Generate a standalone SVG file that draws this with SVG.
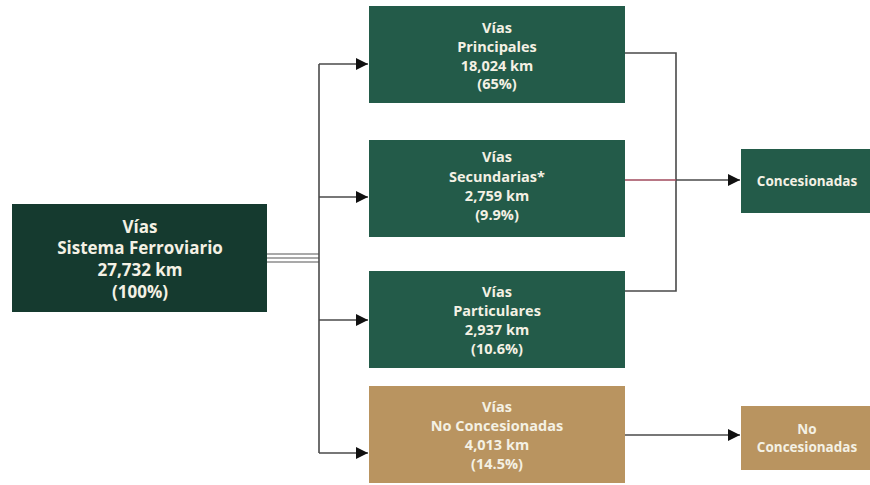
<svg xmlns="http://www.w3.org/2000/svg" width="870" height="485" viewBox="0 0 870 485">
<defs>
<marker id="ah" viewBox="0 0 10 10" refX="10" refY="5" markerWidth="12" markerHeight="12" markerUnits="userSpaceOnUse" orient="auto">
<path d="M0,0 L10,5 L0,10 z" fill="#111"/>
</marker>
<style>
.t{font-family:"Open Sans","Liberation Sans",sans-serif;font-weight:700;fill:#f4f1e4;text-anchor:middle}
.m{font-size:14.5px}
.b{font-size:17px}
.s{font-size:13.5px}
.ln{fill:none;stroke:#4a4a4a;stroke-width:1.6}
.g{fill:#235b49}
.d{fill:#153a2f}
.k{fill:#b99460}
</style>
</defs>
<rect width="870" height="485" fill="#fff"/>
<g id="connectors">
<line x1="266" y1="254" x2="319" y2="254" stroke="#555" stroke-width="1.2"/>
<line x1="266" y1="258" x2="319" y2="258" stroke="#555" stroke-width="1.2"/>
<line x1="266" y1="262" x2="319" y2="262" stroke="#555" stroke-width="1.2"/>
<polyline class="ln" points="319,64 319,453"/>
<line class="ln" x1="319" y1="64" x2="368" y2="64" marker-end="url(#ah)"/>
<line class="ln" x1="319" y1="197" x2="368" y2="197" marker-end="url(#ah)"/>
<line class="ln" x1="319" y1="320" x2="368" y2="320" marker-end="url(#ah)"/>
<line class="ln" x1="319" y1="453" x2="368" y2="453" marker-end="url(#ah)"/>
<polyline class="ln" points="625,53 676,53 676,291 625,291"/>
<line x1="625" y1="180" x2="676" y2="180" stroke="#a04a5c" stroke-width="1.4"/>
<line class="ln" x1="676" y1="180" x2="740" y2="180" marker-end="url(#ah)"/>
<line class="ln" x1="625" y1="435" x2="740" y2="435" marker-end="url(#ah)"/>
</g>
<g id="sistema">
<rect class="d" x="12" y="204" width="255" height="108"/>
<text class="t b" x="140" y="233">Vías</text>
<text class="t b" x="140" y="254">Sistema Ferroviario</text>
<text class="t b" x="140" y="276">27,732 km</text>
<text class="t b" x="140" y="298">(100%)</text>
</g>
<g id="principales">
<rect class="g" x="369" y="6" width="256" height="97"/>
<text class="t m" x="497" y="33">Vías</text>
<text class="t m" x="497" y="52">Principales</text>
<text class="t m" x="497" y="71">18,024 km</text>
<text class="t m" x="497" y="89">(65%)</text>
</g>
<g id="secundarias">
<rect class="g" x="369" y="140" width="256" height="97"/>
<text class="t m" x="497" y="162">Vías</text>
<text class="t m" x="497" y="182">Secundarias*</text>
<text class="t m" x="497" y="201">2,759 km</text>
<text class="t m" x="497" y="220">(9.9%)</text>
</g>
<g id="particulares">
<rect class="g" x="369" y="271" width="256" height="97"/>
<text class="t m" x="497" y="297">Vías</text>
<text class="t m" x="497" y="316">Particulares</text>
<text class="t m" x="497" y="335">2,937 km</text>
<text class="t m" x="497" y="354">(10.6%)</text>
</g>
<g id="noconcesionadas">
<rect class="k" x="369" y="386" width="256" height="97"/>
<text class="t m" x="497" y="412">Vías</text>
<text class="t m" x="497" y="431">No Concesionadas</text>
<text class="t m" x="497" y="450">4,013 km</text>
<text class="t m" x="497" y="469">(14.5%)</text>
</g>
<g id="concesionadas-out">
<rect class="g" x="741" y="149" width="129" height="64"/>
<text class="t s" x="807" y="186">Concesionadas</text>
</g>
<g id="noconcesionadas-out">
<rect class="k" x="741" y="406" width="129" height="64"/>
<text class="t s" x="807" y="434">No</text>
<text class="t s" x="807" y="452">Concesionadas</text>
</g>
</svg>
